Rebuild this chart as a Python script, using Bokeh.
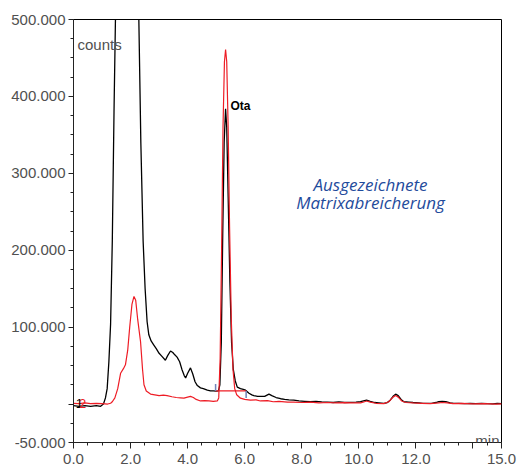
from bokeh.plotting import figure
from bokeh.models import FixedTicker, Label, Range1d
from bokeh.embed import file_html
from bokeh.resources import INLINE

# ---- data (time in min, signal in thousands of counts) ----
black_time = [0.0, 0.2, 0.4, 0.6, 0.8, 0.95, 1.05, 1.12, 1.18, 1.24, 1.30, 1.36, 1.42, 1.47,
              1.55, 1.7, 1.9, 2.05, 2.2, 2.29, 2.36, 2.44, 2.51, 2.58, 2.64, 2.72, 2.81, 2.9,
              3.0, 3.1, 3.22, 3.30, 3.40, 3.48, 3.55, 3.63, 3.72, 3.80, 3.88, 3.93, 4.0, 4.10,
              4.18, 4.26, 4.34, 4.45, 4.55, 4.69, 4.80, 4.90, 5.0, 5.08, 5.13, 5.18, 5.23, 5.28,
              5.33, 5.37, 5.42, 5.48, 5.54, 5.60, 5.67, 5.74, 5.85, 5.95, 6.03, 6.15, 6.25, 6.32,
              6.45, 6.55, 6.7, 6.85, 6.95, 7.1, 7.26, 7.4, 7.55, 7.72, 7.9, 8.1, 8.3, 8.5, 8.7,
              8.89, 9.1, 9.3, 9.5, 9.7, 9.9, 10.06, 10.2, 10.27, 10.4, 10.55, 10.7, 10.88, 11.0,
              11.1, 11.2, 11.29, 11.38, 11.48, 11.58, 11.75, 11.9, 12.1, 12.25, 12.4, 12.55, 12.7,
              12.8, 12.92, 13.05, 13.2, 13.33, 13.5, 13.7, 13.9, 14.1, 14.3, 14.5, 14.7, 14.85, 15.0]
black_kcounts = [-2, -3, -2, -3, -2, -3, 0, 8, 20, 55, 104, 212, 380, 500,
                 750, 1100, 1300, 1100, 700, 500, 340, 212, 150, 107, 90, 82, 77, 72,
                 66, 62, 57, 63, 69, 67, 64, 61, 55, 45, 37, 34, 40, 47,
                 39, 29, 24, 21, 20, 18, 17, 17, 16.7, 17, 25, 80, 220, 340,
                 384, 360, 270, 160, 80, 45, 30, 22, 20, 19, 18, 14, 12, 11,
                 10, 10, 10, 12.9, 11, 8.5, 6.9, 6, 5.5, 5.1, 4, 3.6, 3, 3.5, 2.7,
                 2.5, 2, 2.8, 2, 2.2, 2.5, 3, 4.5, 5, 3.5, 2, 1.5, 0.8, 2,
                 5, 10, 12.9, 11, 6, 3, 2.5, 2, 1.5, 1, 0.8, 1, 2,
                 3, 3.5, 3, 1.5, 0.8, 1, 0.5, 1, 0.5, 0.8, 0.5, 0.3, 0.8, 0.5]

red_time = [0.0, 0.2, 0.4, 0.6, 0.8, 1.0, 1.2, 1.30, 1.36, 1.45, 1.55, 1.65, 1.75, 1.82, 1.9,
            1.97, 2.05, 2.12, 2.18, 2.25, 2.35, 2.42, 2.47, 2.55, 2.70, 2.85, 3.0, 3.15, 3.28,
            3.45, 3.6, 3.75, 3.87, 4.0, 4.10, 4.2, 4.3, 4.45, 4.6, 4.75, 4.9, 5.04, 5.09, 5.14,
            5.19, 5.24, 5.29, 5.33, 5.37, 5.42, 5.47, 5.53, 5.59, 5.65, 5.72, 5.85, 6.0, 6.2,
            6.4, 6.55, 6.8, 7.0, 7.2, 7.5, 7.72, 8.0, 8.3, 8.6, 8.9, 9.2, 9.5, 9.8, 10.06, 10.2,
            10.27, 10.4, 10.6, 10.88, 11.05, 11.2, 11.29, 11.38, 11.5, 11.65, 11.9, 12.2, 12.5,
            12.8, 12.92, 13.1, 13.3, 13.6, 14.0, 14.4, 14.8, 15.0]
red_kcounts = [1, 0.5, 1.5, 0.5, 1, 0.5, 0, 1, 3, 8, 20, 40, 46, 51, 70,
               100, 130, 140, 135, 110, 81, 45, 25, 17, 13, 12, 11, 11.5, 11,
               9.5, 8.5, 8, 7.6, 9, 10, 8.5, 6, 4, 4.5, 4, 3.5, 4, 8, 60,
               200, 360, 445, 461, 445, 360, 230, 110, 45, 20, 12, 7.6, 6, 5,
               5.5, 4, 4.5, 3, 3.5, 2.5, 2.5, 2, 2.5, 1.5, 2, 1.5, 1.8, 1.5, 1.5, 3,
               4, 2.5, 1, 0.5, 3, 9, 11, 9, 4, 2, 1.5, 1, 0.5,
               1.5, 2, 1.5, 0.5, 0.8, 0.3, 0.5, 0, 0.2]

# integration baseline of the Ota peak (red trace) and its start/end markers
baseline_time = [4.97, 6.05]
baseline_kcounts = [17, 17]
marker_time = [4.98, 6.05]
marker_low_kcounts = [17, 8]
marker_high_kcounts = [26, 17]

x_ticks = [0, 2, 4, 6, 8, 10, 12, 14, 15]
x_tick_labels = ["0.0", "2.0", "4.0", "6.0", "8.0", "10.0", "12.0", "", "15.0"]
x_minor_ticks = [0.5, 1, 1.5, 2.5, 3, 3.5, 4.5, 5, 5.5, 6.5, 7, 7.5, 8.5, 9, 9.5,
                 10.5, 11, 11.5, 12.5, 13, 13.5, 14.5]
y_ticks = [-50000, 0, 100000, 200000, 300000, 400000, 500000]
y_tick_labels = ["-50.000", "", "100.000", "200.000", "300.000", "400.000", "500.000"]
y_minor_ticks = [-25000, 25000, 50000, 75000, 125000, 150000, 175000, 225000, 250000, 275000,
                 325000, 350000, 375000, 425000, 450000, 475000]

K = 1000
black_counts = [v * K for v in black_kcounts]
red_counts = [v * K for v in red_kcounts]

p = figure(width=520, height=466, x_range=Range1d(0, 15), y_range=Range1d(-50000, 500000),
           output_backend="svg", toolbar_location=None,
           min_border_left=73, min_border_right=19, min_border_top=19, min_border_bottom=24)
p.grid.visible = False
p.outline_line_color = "black"
p.outline_line_width = 1
p.background_fill_color = "white"
p.border_fill_color = "white"

p.xaxis.ticker = FixedTicker(ticks=x_ticks, minor_ticks=x_minor_ticks)
p.xaxis.major_label_overrides = {t: l for t, l in zip(x_ticks, x_tick_labels)}
p.yaxis.ticker = FixedTicker(ticks=y_ticks, minor_ticks=y_minor_ticks)
p.yaxis.major_label_overrides = {t: l for t, l in zip(y_ticks, y_tick_labels)}

for ax in (p.xaxis, p.yaxis):
    ax.axis_line_color = "#222222"
    ax.major_tick_line_color = "#222222"
    ax.minor_tick_line_color = "#222222"
    ax.major_tick_in = 0
    ax.minor_tick_in = 0
    ax.minor_tick_out = 3
    ax.major_label_text_font = "Liberation Sans"
    ax.major_label_text_font_size = "15px"
    ax.major_label_text_color = "#505050"
p.xaxis.major_tick_out = 6
p.xaxis.major_label_standoff = 5
p.yaxis.major_tick_out = 5
p.yaxis.major_label_standoff = 3

p.line(black_time, black_counts, line_color="black", line_width=1.3)
p.line(red_time, red_counts, line_color="#ee1c25", line_width=1.2)
p.line(baseline_time, [v * K for v in baseline_kcounts], line_color="#ee1c25", line_width=1.2)
p.segment(x0=marker_time, y0=[v * K for v in marker_low_kcounts],
          x1=marker_time, y1=[v * K for v in marker_high_kcounts],
          line_color="#7082b8", line_width=1.5)

def add_label(x, y, text, size, color, align="left", style="normal", font="Liberation Sans"):
    p.add_layout(Label(x=x, y=y, text=text, text_font=font, text_font_size=size,
                       text_color=color, text_align=align, text_baseline="alphabetic",
                       text_font_style=style))

add_label(0.14, 468000, "counts", "15px", "#505050")
add_label(14.93, -47500, "min", "15px", "#505050", align="right")
add_label(5.50, 387000, "Ota", "12px", "black", style="bold")
add_label(0.08, 700, "1", "13px", "black")
add_label(0.19, 700, "2", "13px", "#ee1c25")
add_label(10.41, 285000, "Ausgezeichnete", "17px", "#1f4b9c", align="center", style="italic",
          font="Open Sans")
add_label(10.41, 262000, "Matrixabreicherung", "17px", "#1f4b9c", align="center", style="italic",
          font="Open Sans")

open("out.html", "w").write(file_html(p, INLINE))
